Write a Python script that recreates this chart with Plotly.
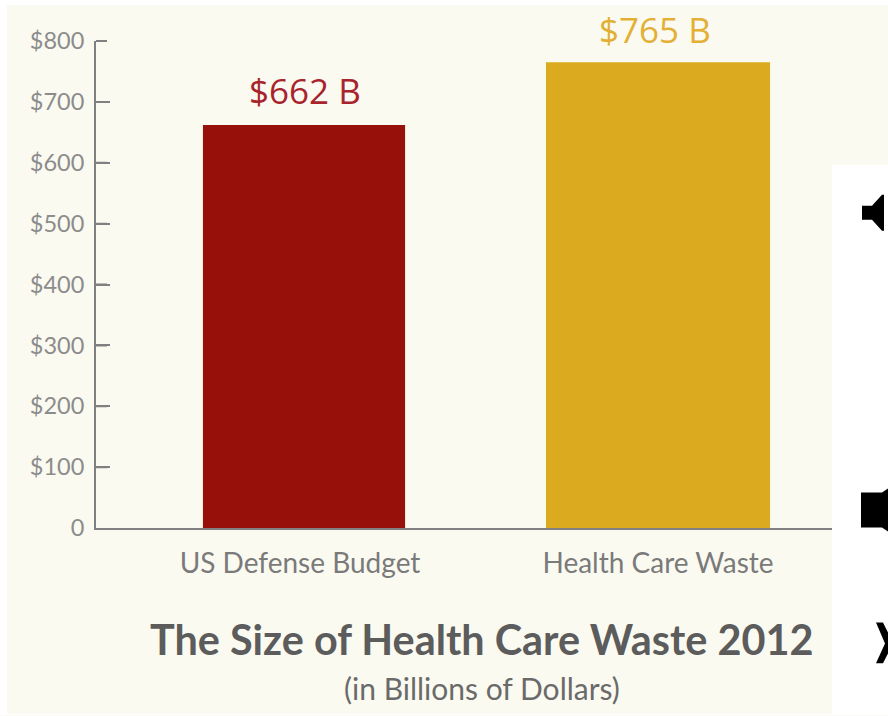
import plotly.graph_objects as go

# Chart data
categories = ["US Defense Budget", "Health Care Waste"]
spending = [662, 765]
tick_values = [0, 100, 200, 300, 400, 500, 600, 700, 800]
tick_labels = ["0", "$100", "$200", "$300", "$400", "$500", "$600", "$700", "$800"]

# Canvas and plot frame, in pixels
W, H = 888, 716
LEFT, RIGHT, TOP, BOTTOM = 96, 832, 41, 528.5
TICK_LENGTH = 14
CREAM = "#fafaf1"
AXIS = "#808080"
TICK_TEXT = "#8c8c8c"


def px(x):
    return (x - LEFT) / (RIGHT - LEFT)


def py(y):
    return (BOTTOM - y) / (BOTTOM - TOP)


def white_block(x0, y0, x1, y1):
    return dict(type="rect", xref="paper", yref="paper", layer="above",
                x0=px(x0), x1=px(x1), y0=py(y1), y1=py(y0),
                fillcolor="#ffffff", line_width=0)


def glyph(points):
    path = "M" + " L".join(f"{px(x):.5f},{py(y):.5f}" for x, y in points) + " Z"
    return dict(type="path", xref="paper", yref="paper", layer="above",
                path=path, fillcolor="#000000", line_width=0)


fig = go.Figure()
fig.add_trace(go.Bar(
    x=[0, 1],
    y=spending,
    width=[0.571, 0.633],
    marker=dict(color=["#97110a", "#dcaa1e"], line_width=0),
))

for i, (value, color) in enumerate(zip(spending, ["#a8242c", "#e3b035"])):
    fig.add_annotation(x=i, y=value, xref="x", yref="y",
                       xanchor="center", yanchor="bottom",
                       yshift=9 if i == 0 else 7, showarrow=False,
                       xshift=1 if i == 0 else -3,
                       text=f"${value} B",
                       font=dict(family="Open Sans", size=35, color=color))

# Inward scale ticks, one short line per labelled value above zero
for v in tick_values[1:]:
    fig.add_annotation(x=0, y=v, xref="paper", yref="y", text=" ",
                       showarrow=True, arrowhead=0, arrowwidth=2, arrowcolor=AXIS,
                       axref="pixel", ayref="pixel", ax=TICK_LENGTH, ay=0,
                       standoff=0, startstandoff=0)

fig.add_annotation(x=px(481), y=py(640), xref="paper", yref="paper", showarrow=False,
                   xanchor="center", yanchor="middle",
                   text="<b>The Size of Health Care Waste 2012</b>",
                   font=dict(family="Lato", size=41.4, color="#5c5c5c"))
fig.add_annotation(x=px(482), y=py(689), xref="paper", yref="paper", showarrow=False,
                   xanchor="center", yanchor="middle",
                   text="(in Billions of Dollars)",
                   font=dict(family="Lato", size=30, color="#6a6a6a"))

shapes = [
    # White margin around the cream card, and the white block at lower right
    white_block(0, 0, 888, 5),
    white_block(0, 0, 7, 716),
    white_block(0, 715, 888, 716),
    white_block(832, 165, 888, 716),
    # Speaker and close controls cut off at the right edge
    glyph([(862, 206), (872, 206), (882, 195), (884, 195), (884, 231), (882, 231), (872, 220), (862, 220)]),
    glyph([(861, 493), (882, 493), (888, 489), (888, 532), (882, 528), (861, 528)]),
    glyph([(876, 623), (883, 623), (888, 633), (888, 654), (883, 664), (876, 664), (885, 644)]),
]

fig.update_layout(
    width=W,
    height=H,
    autosize=False,
    margin=dict(l=LEFT, r=W - RIGHT, t=TOP, b=H - BOTTOM, pad=0),
    paper_bgcolor=CREAM,
    plot_bgcolor=CREAM,
    showlegend=False,
    shapes=shapes,
    xaxis=dict(
        range=[-0.5876, 1.4915],
        tickmode="array",
        tickvals=[-0.0113, 1],
        ticktext=categories,
        ticks="",
        showgrid=False,
        zeroline=False,
        showline=True,
        linecolor=AXIS,
        linewidth=2,
        tickfont=dict(family="Lato", size=28, color="#7a7a7a"),
        ticklabelstandoff=9,
    ),
    yaxis=dict(
        range=[0, 800],
        tickmode="array",
        tickvals=tick_values,
        ticktext=tick_labels,
        ticks="inside",
        ticklen=TICK_LENGTH,
        tickwidth=2,
        tickcolor=AXIS,
        showgrid=False,
        zeroline=False,
        showline=True,
        linecolor=AXIS,
        linewidth=2,
        tickfont=dict(family="Lato", size=23.5, color=TICK_TEXT),
        ticklabelstandoff=5,
    ),
)

fig.write_html("out.html", config=dict(displayModeBar=False))
